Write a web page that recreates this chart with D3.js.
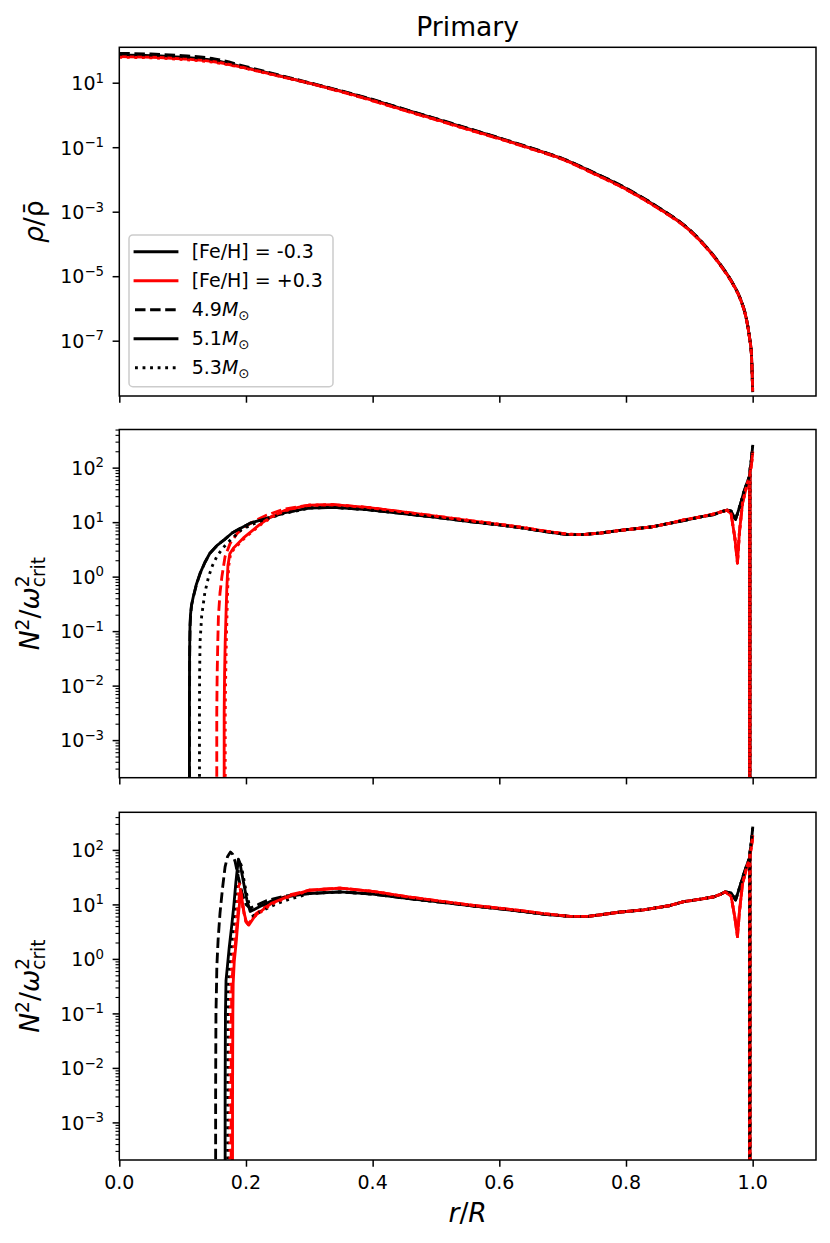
<!DOCTYPE html>
<html><head><meta charset="utf-8">
<script src="https://cdn.jsdelivr.net/npm/d3@7"></script>
<style>
body{margin:0;background:#fff}
svg{display:block}
text{font-family:"DejaVu Sans",sans-serif;fill:#000}
</style>
</head><body><div id="chart"></div>
<script>
// ---------------- DATA ----------------
const xTicks = [0, 0.2, 0.4, 0.6, 0.8, 1.0];
const xTickLabels = ["0.0", "0.2", "0.4", "0.6", "0.8", "1.0"];
const rhoTickExp = [1, -1, -3, -5, -7];
const n2TickExp = [2, 1, 0, -1, -2, -3];
const fehLabels = ["[Fe/H] = -0.3", "[Fe/H] = +0.3"];
const massLabels = ["4.9", "5.1", "5.3"];

// Panel 1: log10(rho/rho_bar) on a shared r grid
const rGridRho = [0, 0.05, 0.1, 0.15, 0.2, 0.25, 0.3, 0.35, 0.4, 0.45, 0.5, 0.55, 0.6, 0.65, 0.7, 0.75, 0.8, 0.85, 0.9, 0.93, 0.95, 0.97, 0.98, 0.99, 0.995, 0.998, 1.0];
const rhoLog_m03_49 = [1.91,1.89,1.84,1.74,1.50,1.25,1.00,0.75,0.48,0.18,-0.11,-0.41,-0.71,-1.02,-1.35,-1.79,-2.27,-2.85,-3.55,-4.16,-4.66,-5.27,-5.67,-6.31,-6.88,-7.40,-8.55];
const rhoLog_p03_49 = [1.84,1.82,1.76,1.66,1.45,1.22,0.98,0.72,0.44,0.14,-0.15,-0.45,-0.74,-1.05,-1.38,-1.83,-2.31,-2.89,-3.58,-4.19,-4.69,-5.29,-5.69,-6.33,-6.91,-7.42,-8.53];
const rhoLog_m03_51 = [1.86,1.84,1.79,1.69,1.47,1.23,0.99,0.74,0.47,0.17,-0.12,-0.42,-0.72,-1.03,-1.36,-1.80,-2.28,-2.86,-3.56,-4.17,-4.67,-5.27,-5.67,-6.31,-6.89,-7.40,-8.55];
const rhoLog_p03_51 = [1.81,1.79,1.74,1.65,1.45,1.22,0.99,0.73,0.45,0.15,-0.14,-0.44,-0.73,-1.04,-1.37,-1.82,-2.30,-2.88,-3.57,-4.18,-4.68,-5.28,-5.68,-6.32,-6.90,-7.40,-8.53];
const rhoLog_m03_53 = [1.84,1.82,1.77,1.67,1.46,1.23,0.99,0.74,0.47,0.17,-0.12,-0.42,-0.72,-1.03,-1.36,-1.80,-2.28,-2.86,-3.56,-4.17,-4.67,-5.28,-5.68,-6.32,-6.90,-7.42,-8.55];
const rhoLog_p03_53 = [1.79,1.77,1.72,1.63,1.44,1.21,0.98,0.72,0.44,0.14,-0.15,-0.45,-0.74,-1.05,-1.38,-1.83,-2.31,-2.89,-3.58,-4.19,-4.69,-5.29,-5.69,-6.33,-6.91,-7.42,-8.53];

// Panels 2/3: [r, log10(N^2/w_crit^2)], null = non-positive (clipped by log axis)
const n2aHead_m03_49 = [[0.1108,null],[0.1109,-2.5],[0.1111,-1.5],[0.1114,-1.2],[0.1118,-0.9],[0.1126,-0.7],[0.1142,-0.52],[0.1172,-0.36],[0.1217,-0.15],[0.1277,0.06],[0.1352,0.26],[0.1432,0.43],[0.155,0.58],[0.166,0.68],[0.178,0.80],[0.19,0.88],[0.2066,0.98],[0.233,1.07],[0.26,1.17],[0.286,1.23]];
const n2aHead_m03_51 = [[0.1106,null],[0.1107,-2.5],[0.1109,-1.5],[0.1112,-1.2],[0.1116,-0.9],[0.1124,-0.7],[0.1140,-0.52],[0.117,-0.36],[0.1215,-0.15],[0.1275,0.06],[0.135,0.26],[0.143,0.43],[0.155,0.58],[0.166,0.68],[0.178,0.80],[0.19,0.88],[0.2066,0.98],[0.233,1.07],[0.26,1.17],[0.286,1.23]];
const n2aHead_m03_53 = [[0.1265,null],[0.1266,-2.5],[0.1268,-1.8],[0.1275,-1.2],[0.130,-0.73],[0.135,-0.3],[0.141,0.0],[0.147,0.2],[0.154,0.37],[0.162,0.5],[0.170,0.61],[0.18,0.72],[0.193,0.86],[0.21,0.96],[0.233,1.06],[0.26,1.16],[0.286,1.22]];
const n2aHead_p03_49 = [[0.1538,null],[0.1539,-2.5],[0.1545,-1.8],[0.1555,-1.2],[0.1565,-0.73],[0.159,-0.3],[0.162,0.0],[0.167,0.37],[0.175,0.61],[0.1866,0.80],[0.2,0.93],[0.215,1.03],[0.233,1.13],[0.26,1.24],[0.286,1.29]];
const n2aHead_p03_51 = [[0.1655,null],[0.1656,-2.5],[0.1662,-1.8],[0.1672,-1.2],[0.1684,-0.73],[0.1698,-0.2],[0.1715,0.2],[0.1745,0.42],[0.180,0.52],[0.196,0.71],[0.222,0.96],[0.24,1.1],[0.26,1.21],[0.286,1.28]];
const n2aHead_p03_53 = [[0.1672,null],[0.1673,-2.5],[0.1680,-1.8],[0.1690,-1.2],[0.1700,-0.73],[0.1712,-0.2],[0.1728,0.2],[0.1758,0.42],[0.182,0.52],[0.198,0.71],[0.224,0.96],[0.242,1.1],[0.262,1.21],[0.286,1.28]];
const n2aTailBlack = [[0.30,1.26],[0.338,1.27],[0.391,1.23],[0.454,1.15],[0.50,1.09],[0.5595,1.00],[0.60,0.95],[0.638,0.89],[0.67,0.83],[0.707,0.77],[0.73,0.77],[0.76,0.80],[0.791,0.85],[0.839,0.91],[0.87,0.98],[0.891,1.03],[0.92,1.10],[0.939,1.14],[0.95,1.19],[0.96,1.22],[0.966,1.20],[0.973,1.05],[0.98,1.30],[0.986,1.55],[0.9917,1.74],[0.995,1.84],[0.9952,null],[0.9955,null],[0.9957,1.95],[0.998,2.15],[1.0,2.39]];
const n2aTailRed = [[0.30,1.31],[0.338,1.32],[0.391,1.27],[0.454,1.18],[0.50,1.11],[0.5595,1.02],[0.60,0.96],[0.638,0.90],[0.67,0.84],[0.707,0.78],[0.73,0.77],[0.76,0.80],[0.791,0.85],[0.839,0.91],[0.87,0.98],[0.891,1.04],[0.92,1.10],[0.939,1.15],[0.95,1.19],[0.96,1.22],[0.966,1.15],[0.972,0.70],[0.976,0.25],[0.979,0.80],[0.984,1.35],[0.9917,1.72],[0.995,1.80],[0.9952,null],[0.9955,null],[0.9957,1.9],[0.998,2.05],[1.0,2.27]];

const n2bHead_m03_49 = [[0.1520,null],[0.1521,-2.5],[0.1523,-1.8],[0.1526,-1.0],[0.1535,-0.5],[0.1540,-0.14],[0.1560,0.35],[0.159,0.84],[0.163,1.30],[0.167,1.69],[0.171,1.88],[0.1755,1.96],[0.179,1.92],[0.183,1.78],[0.188,1.50],[0.194,1.20],[0.2,1.0],[0.2066,0.93],[0.22,1.0],[0.233,1.07],[0.26,1.15],[0.286,1.19]];
const n2bHead_m03_51 = [[0.1670,null],[0.1671,-2.5],[0.1673,-1.8],[0.1676,-1.0],[0.1685,-0.4],[0.171,-0.1],[0.1735,0.2],[0.1776,0.62],[0.181,1.0],[0.184,1.4],[0.188,1.83],[0.1905,1.76],[0.193,1.6],[0.197,1.35],[0.2015,1.08],[0.2066,0.87],[0.222,0.96],[0.24,1.06],[0.26,1.13],[0.286,1.18]];
const n2bHead_m03_53 = [[0.1710,null],[0.1711,-2.5],[0.1713,-1.8],[0.1716,-1.0],[0.1725,-0.4],[0.175,0.0],[0.178,0.3],[0.182,0.8],[0.1855,1.35],[0.1897,1.80],[0.1925,1.72],[0.196,1.5],[0.2,1.25],[0.205,1.0],[0.211,0.79],[0.225,0.88],[0.25,1.02],[0.27,1.10],[0.286,1.15]];
const n2bHead_p03_49 = [[0.1765,null],[0.1766,-2.5],[0.1768,-1.8],[0.1771,-1.0],[0.1778,-0.45],[0.180,-0.05],[0.1835,0.3],[0.187,0.8],[0.1905,1.3],[0.1925,1.2],[0.196,0.9],[0.2,0.68],[0.2035,0.63],[0.215,0.82],[0.24,1.04],[0.27,1.18],[0.286,1.22]];
const n2bHead_p03_51 = [[0.1787,null],[0.1788,-2.5],[0.1790,-1.8],[0.1793,-1.0],[0.1798,-0.45],[0.1815,-0.05],[0.1845,0.3],[0.188,0.8],[0.1915,1.22],[0.1935,1.1],[0.197,0.85],[0.2005,0.68],[0.2044,0.62],[0.215,0.8],[0.24,1.02],[0.27,1.16],[0.286,1.21]];
const n2bHead_p03_53 = [[0.1745,null],[0.1746,-2.5],[0.1748,-1.8],[0.1751,-1.0],[0.1758,-0.45],[0.178,-0.05],[0.182,0.3],[0.1855,0.8],[0.189,1.42],[0.1915,1.25],[0.195,0.95],[0.199,0.72],[0.2025,0.63],[0.214,0.78],[0.24,1.0],[0.27,1.15],[0.286,1.2]];
const n2bTailBlack = [[0.30,1.20],[0.349,1.23],[0.40,1.19],[0.454,1.11],[0.50,1.05],[0.5595,0.97],[0.60,0.92],[0.638,0.87],[0.67,0.82],[0.712,0.78],[0.74,0.78],[0.76,0.81],[0.791,0.86],[0.828,0.90],[0.87,0.98],[0.891,1.05],[0.92,1.10],[0.939,1.14],[0.95,1.19],[0.957,1.23],[0.966,1.21],[0.973,1.08],[0.98,1.33],[0.986,1.56],[0.9917,1.75],[0.995,1.85],[0.9952,null],[0.9955,null],[0.9957,1.95],[0.998,2.15],[1.0,2.40]];
const n2bTailRed = [[0.30,1.26],[0.349,1.30],[0.40,1.24],[0.454,1.14],[0.50,1.07],[0.5595,0.98],[0.60,0.93],[0.638,0.88],[0.67,0.83],[0.712,0.78],[0.74,0.78],[0.76,0.81],[0.791,0.86],[0.828,0.90],[0.87,0.98],[0.891,1.05],[0.92,1.10],[0.939,1.14],[0.95,1.19],[0.957,1.23],[0.966,1.15],[0.972,0.75],[0.976,0.41],[0.979,0.85],[0.984,1.38],[0.9917,1.73],[0.995,1.80],[0.9952,null],[0.9955,null],[0.9957,1.9],[0.998,2.05],[1.0,2.24]];

// ---------------- LAYOUT ----------------
const W = 830, H = 1243;
const plotLeft = 119.3, plotRight = 816;
const panelBoxes = [
  {top: 47.3, bottom: 396, logMin: -8.715, logMax: 2.098},
  {top: 429.5, bottom: 777.7, logMin: -3.69, logMax: 2.70},
  {top: 812.3, bottom: 1160, logMin: -3.69, logMax: 2.69}
];
const colors = ["#000000", "#ff0000"];
const lw = 2.85;
const dashes = ["10.5,4.6", null, "2.85,4.7"];
const CLIP_FLOOR = 1e-30;

const svg = d3.select("#chart").append("svg").attr("width", W).attr("height", H);
svg.append("rect").attr("width", W).attr("height", H).attr("fill", "#fff");

const x = d3.scaleLinear().domain([0, 1.1]).range([plotLeft, plotRight]);

function supLabel(sel, base, exp) {
  sel.append("tspan").text(base);
  sel.append("tspan").attr("font-size", 13.3).attr("dy", -7.5).text(exp);
}

// Series order: loop over masses, then metallicities
const rhoSets = [[rhoLog_m03_49, rhoLog_p03_49], [rhoLog_m03_51, rhoLog_p03_51], [rhoLog_m03_53, rhoLog_p03_53]];
const n2aSets = [[n2aHead_m03_49, n2aHead_p03_49], [n2aHead_m03_51, n2aHead_p03_51], [n2aHead_m03_53, n2aHead_p03_53]];
const n2bSets = [[n2bHead_m03_49, n2bHead_p03_49], [n2bHead_m03_51, n2bHead_p03_51], [n2bHead_m03_53, n2bHead_p03_53]];
const n2aTails = [n2aTailBlack, n2aTailRed];
const n2bTails = [n2bTailBlack, n2bTailRed];

panelBoxes.forEach((pb, pi) => {
  const y = d3.scaleLog().domain([Math.pow(10, pb.logMin), Math.pow(10, pb.logMax)]).range([pb.bottom, pb.top]);
  const clipId = "clip" + pi;
  svg.append("clipPath").attr("id", clipId).append("rect")
    .attr("x", plotLeft).attr("y", pb.top).attr("width", plotRight - plotLeft).attr("height", pb.bottom - pb.top);
  const g = svg.append("g").attr("clip-path", `url(#${clipId})`);

  const line = d3.line()
    .x(d => x(d[0]))
    .y(d => y(d[1] === null ? CLIP_FLOOR : Math.pow(10, d[1])));

  for (let m = 0; m < 3; m++) {
    for (let f = 0; f < 2; f++) {
      let pts;
      if (pi === 0) {
        const arr = rhoSets[m][f];
        pts = rGridRho.map((r, i) => [r, arr[i]]);
      } else if (pi === 1) {
        pts = n2aSets[m][f].concat(n2aTails[f]);
      } else {
        pts = n2bSets[m][f].concat(n2bTails[f]);
      }
      const path = g.append("path").datum(pts)
        .attr("fill", "none")
        .attr("stroke", colors[f])
        .attr("stroke-width", lw)
        .attr("stroke-linejoin", "round")
        .attr("d", pi === 0 ? line.curve(d3.curveMonotoneX) : line.curve(d3.curveLinear));
      if (dashes[m]) path.attr("stroke-dasharray", dashes[m]).attr("stroke-linecap", "butt");
      else path.attr("stroke-linecap", "square");
    }
  }

  // y major ticks
  const exps = pi === 0 ? rhoTickExp : n2TickExp;
  const majorVals = exps.map(e => Math.pow(10, e));
  const yAx = svg.append("g").attr("transform", `translate(${plotLeft},0)`)
    .call(d3.axisLeft(y).tickValues(majorVals).tickSize(6.7).tickFormat(""));
  yAx.select(".domain").remove();
  yAx.selectAll(".tick line").attr("stroke-width", 1.5);
  if (pi > 0) {
    const minorVals = [];
    for (let e = -4; e <= 2; e++) for (let k = 2; k <= 9; k++) {
      const v = k * Math.pow(10, e);
      if (Math.log10(v) >= pb.logMin && Math.log10(v) <= pb.logMax) minorVals.push(v);
    }
    const yMin = svg.append("g").attr("transform", `translate(${plotLeft},0)`)
      .call(d3.axisLeft(y).tickValues(minorVals).tickSize(3.8).tickFormat(""));
    yMin.select(".domain").remove();
    yMin.selectAll(".tick line").attr("stroke-width", 1.1);
  }
  exps.forEach(e => {
    const t = svg.append("text").attr("x", 104).attr("y", y(Math.pow(10, e)) + 7.3)
      .attr("text-anchor", "end").attr("font-size", 19);
    supLabel(t, "10", e < 0 ? "\u2212" + Math.abs(e) : String(e));
  });

  // x ticks
  const xAx = svg.append("g").attr("transform", `translate(0,${pb.bottom})`)
    .call(d3.axisBottom(x).tickValues(xTicks).tickSize(6.7).tickFormat(""));
  xAx.select(".domain").remove();
  xAx.selectAll(".tick line").attr("stroke-width", 1.5);
  if (pi === 2) {
    xTicks.forEach((v, i) => {
      svg.append("text").attr("x", x(v)).attr("y", pb.bottom + 29)
        .attr("text-anchor", "middle").attr("font-size", 19).text(xTickLabels[i]);
    });
  }

  // spines
  svg.append("rect").attr("x", plotLeft).attr("y", pb.top)
    .attr("width", plotRight - plotLeft).attr("height", pb.bottom - pb.top)
    .attr("fill", "none").attr("stroke", "#000").attr("stroke-width", 1.5);

  // y label
  const cy = (pb.top + pb.bottom) / 2;
  if (pi === 0) {
    const lx = 43;
    const t = svg.append("text").attr("x", lx).attr("y", cy).attr("text-anchor", "middle")
      .attr("font-size", 26.6).attr("transform", `rotate(-90,${lx},${cy})`);
    t.append("tspan").attr("font-style", "italic").text("\u03c1");
    t.append("tspan").text("/");
    t.append("tspan").text("\u03c1\u0304");
  } else {
    const lx = 39.5;
    const t = svg.append("text").attr("x", lx).attr("y", cy).attr("text-anchor", "middle")
      .attr("font-size", 26.6).attr("transform", `rotate(-90,${lx},${cy})`);
    t.append("tspan").attr("font-style", "italic").text("N");
    t.append("tspan").attr("font-size", 18.6).attr("dy", -10.5).text("2");
    t.append("tspan").attr("dy", 10.5).text("/");
    t.append("tspan").attr("font-style", "italic").text("\u03c9");
    t.append("tspan").attr("font-size", 18.6).attr("dy", -10.5).text("2");
    t.append("tspan").attr("font-size", 18.6).attr("dx", -11.8).attr("dy", 16.5).text("crit");
  }
});

// title
svg.append("text").attr("x", (plotLeft + plotRight) / 2).attr("y", 36)
  .attr("text-anchor", "middle").attr("font-size", 26.6).text("Primary");

// x label
const xl = svg.append("text").attr("x", (plotLeft + plotRight) / 2).attr("y", 1222)
  .attr("text-anchor", "middle").attr("font-size", 26.6);
xl.append("tspan").attr("font-style", "italic").text("r");
xl.append("tspan").text("/");
xl.append("tspan").attr("font-style", "italic").text("R");

// legend
const leg = svg.append("g");
leg.append("rect").attr("x", 129).attr("y", 235).attr("width", 204).attr("height", 151.7)
  .attr("rx", 3.8).attr("fill", "#fff").attr("fill-opacity", 0.8)
  .attr("stroke", "#cccccc").attr("stroke-width", 1.5);
const legendEntries = [
  {color: colors[0], dash: null, label: fehLabels[0], mass: false},
  {color: colors[1], dash: null, label: fehLabels[1], mass: false},
  {color: colors[0], dash: dashes[0], label: massLabels[0], mass: true},
  {color: colors[0], dash: dashes[1], label: massLabels[1], mass: true},
  {color: colors[0], dash: dashes[2], label: massLabels[2], mass: true}
];
legendEntries.forEach((e, i) => {
  const cy = 251.7 + i * 29;
  const l = leg.append("line").attr("x1", 135).attr("x2", 177).attr("y1", cy).attr("y2", cy)
    .attr("stroke", e.color).attr("stroke-width", lw);
  if (e.dash) l.attr("stroke-dasharray", e.dash).attr("stroke-linecap", "butt");
  else l.attr("stroke-linecap", "square");
  const t = leg.append("text").attr("x", 191.7).attr("y", cy + 6.6).attr("font-size", 19);
  if (e.mass) {
    t.append("tspan").text(e.label);
    t.append("tspan").attr("font-style", "italic").text("M");
    t.append("tspan").attr("font-size", 13.3).attr("dy", 4).text("\u2299");
  } else {
    t.text(e.label);
  }
});
</script>
</body></html>
